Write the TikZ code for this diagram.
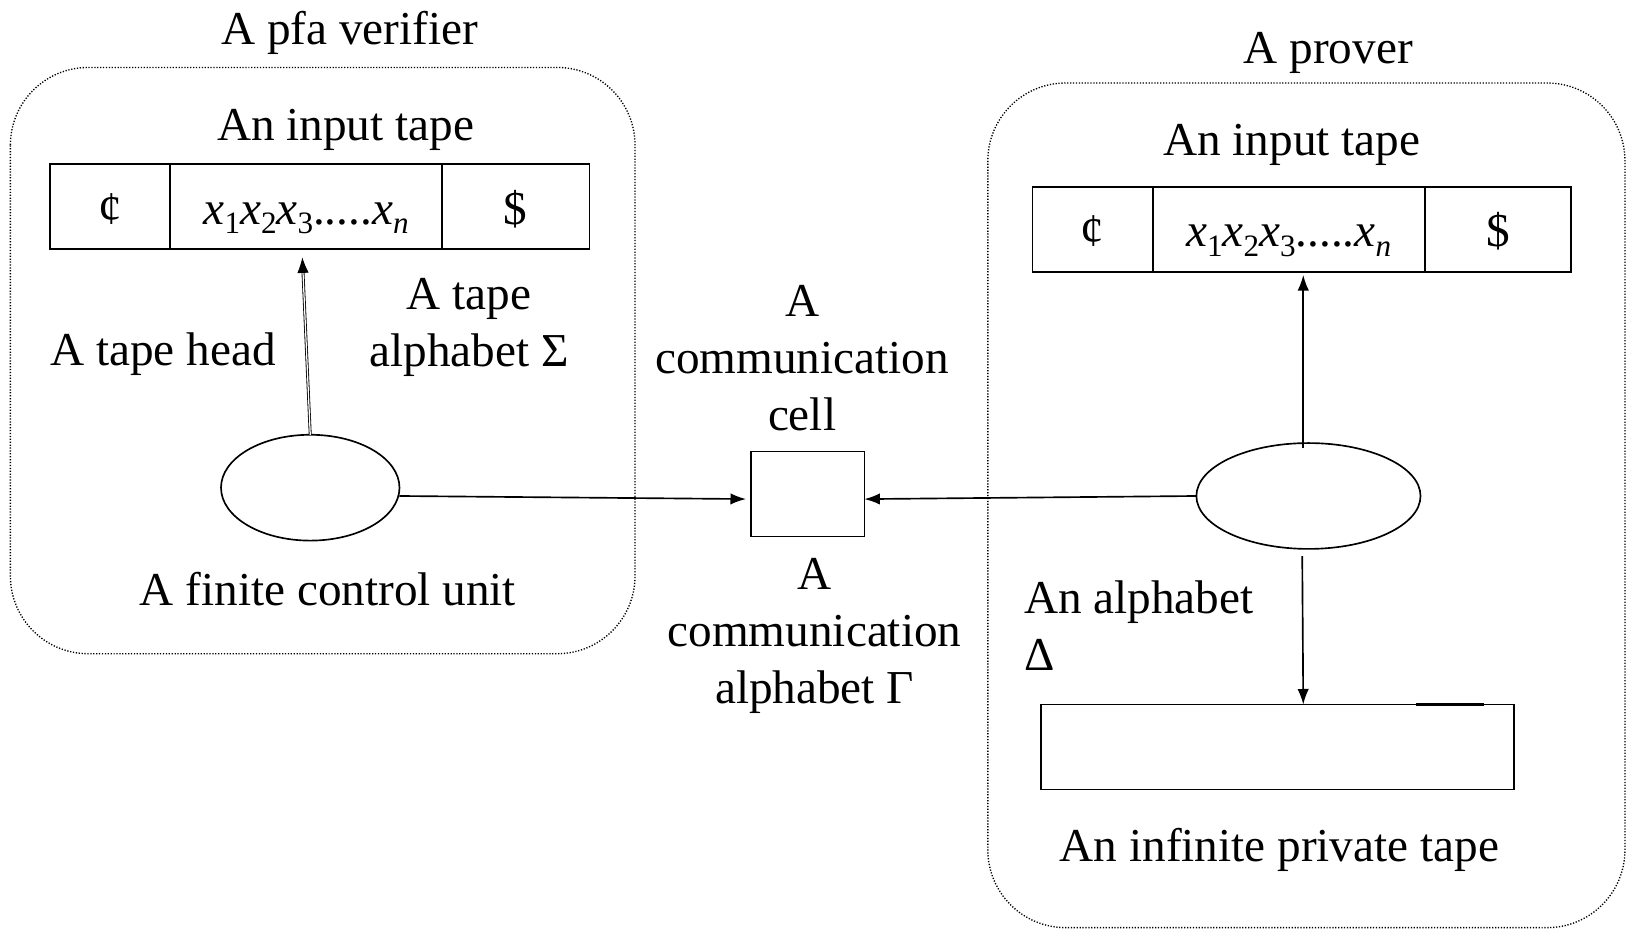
\documentclass[tikz,border=0pt]{standalone}
\usepackage{fontspec}
\setmainfont{Liberation Serif}
\usetikzlibrary{arrows.meta,shapes.geometric}

% subscripts of the input word, set a little below the baseline
\newcommand\lowsub[1]{\raisebox{-0.2em}{\fontsize{30}{30}\selectfont #1}}
\newcommand\tapeword{\textit{x}\lowsub{1}\textit{x}\lowsub{2}\textit{x}\lowsub{3}.....\textit{x}\lowsub{\textit{n}}}

\begin{document}
\begin{tikzpicture}[x=1pt,y=-1pt,
  every node/.style={font=\fontsize{45.5}{55}\selectfont, inner sep=0pt, outer sep=0pt},
  lbl/.style={anchor=base, align=center},
  frame/.style={draw, line width=1.3pt, dash pattern=on 1.2pt off 1.6pt, rounded corners=75pt},
  cellbox/.style={draw, line width=1.6pt, minimum height=82pt, text height=34pt, text depth=0pt},
  unit/.style={draw, ellipse, line width=1.6pt, minimum height=102pt},
  link/.style={line width=1.6pt, -{Latex[length=15pt,width=11pt]}},
  headlink/.style={line width=0.8pt, double, double distance=1.2pt, -{Latex[length=15pt,width=11pt]}},
]
\useasboundingbox (0,0) rectangle (1568,896);

% ---------- verifier ----------
\draw[frame] (10,65) rectangle (612,630);
\node[lbl] (vtitle) at (337,43) {A pfa verifier};
\node[lbl] (vin) at (333,135) {An input tape};

\node[cellbox, minimum width=116pt] (lt1) at (106,199) {¢};
\node[cellbox, minimum width=262pt] (lt2) at (295,199) {\tapeword};
\node[cellbox, minimum width=142pt] (lt3) at (497,199) {\$};

\node[unit, minimum width=172pt] (lu) at (299,470) {};
\node[lbl] (thead) at (157,352) {A tape head};
% multi-line labels: the base anchor sits on the last line
\node[lbl] (talpha) at (452,353) {A tape\\alphabet Σ};
\node[lbl] (fcu) at (316,584) {A finite control unit};

\draw[headlink, shorten >=8pt] (lu.north) -- ([xshift=-4pt]lt2.south);

% ---------- communication cell ----------
\node[draw, line width=1.6pt, minimum width=109pt, minimum height=82pt] (cell) at (778.5,476) {};
\node[lbl] (ccell) at (773,415) {A\\communication\\cell};
\node[lbl] (calpha) at (785,678) {A\\communication\\alphabet Γ};

\draw[link, shorten >=5pt] ([yshift=-8pt]lu.east) -- ([yshift=-5pt]cell.west);

% ---------- prover ----------
\draw[frame] (952,80) rectangle (1566,894);
\node[lbl] (ptitle) at (1280,61) {A prover};
\node[lbl] (pin) at (1245,150) {An input tape};

\node[cellbox, minimum width=116pt] (rt1) at (1053,221) {¢};
\node[cellbox, minimum width=262pt] (rt2) at (1242,221) {\tapeword};
\node[cellbox, minimum width=141pt] (rt3) at (1443.5,221) {\$};

\node[unit, minimum width=216pt] (ru) at (1261,478) {};
\node[anchor=base west, align=left] (palpha) at (987,646) {An alphabet\\Δ};

\node[draw, line width=1.6pt, minimum width=456pt, minimum height=82pt] (ptape) at (1231,720) {};
\draw[line width=2.6pt] ([xshift=362pt]ptape.north west) -- ([xshift=427pt]ptape.north west);
\node[lbl] (ptlabel) at (1233,830) {An infinite private tape};

\draw[link] (ru.west) -- ([yshift=-5pt]cell.east);
\draw[link] ([xshift=-5pt,yshift=-5pt]ru.north) -- ([xshift=14pt,yshift=-3pt]rt2.south);
\draw[link] ([xshift=-6pt,yshift=-7pt]ru.south) -- ([xshift=25pt]ptape.north);
\end{tikzpicture}
\end{document}
